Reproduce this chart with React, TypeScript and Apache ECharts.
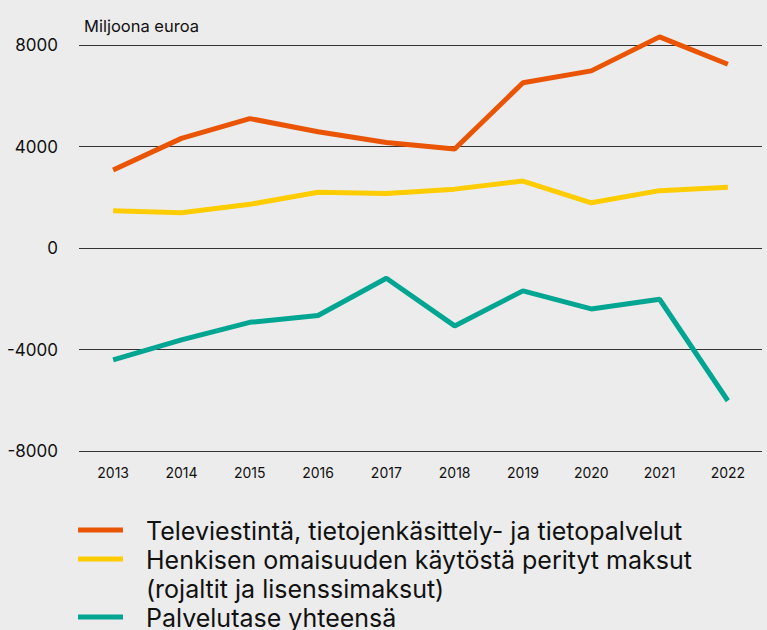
import React, { useEffect, useRef } from "react";
import * as echarts from "echarts";

const years = ["2013", "2014", "2015", "2016", "2017", "2018", "2019", "2020", "2021", "2022"];
const tele = [3070, 4320, 5100, 4580, 4160, 3900, 6510, 6980, 8320, 7240];
const ip = [1470, 1390, 1720, 2200, 2150, 2320, 2640, 1780, 2260, 2390];
const total = [-4410, -3620, -2930, -2660, -1190, -3070, -1690, -2400, -2020, -6020];
const seriesNames = [
  "Televiestintä, tietojenkäsittely- ja tietopalvelut",
  "Henkisen omaisuuden käytöstä perityt maksut\n(rojaltit ja lisenssimaksut)",
  "Palvelutase yhteensä",
];
const colors = ["#EA5505", "#FFCC00", "#00A692"];
const unitLabel = "Miljoona euroa";
const FONT = "Inter, 'Noto Sans', sans-serif";

export default function App() {
  const ref = useRef<HTMLDivElement>(null);
  useEffect(() => {
    document.body.style.margin = "0";
    const chart = echarts.init(ref.current!, null, { renderer: "svg" });
    const values = [tele, ip, total];
    const rowStart = 530;
    const rowH = 29;
    const legendGraphics: any[] = [];
    let row = 0;
    seriesNames.forEach((n, i) => {
      const cy = rowStart + row * rowH;
      legendGraphics.push({
        type: "rect",
        shape: { x: 78, y: cy - 2.5, width: 45, height: 5 },
        style: { fill: colors[i] },
      });
      n.split("\n").forEach((line) => {
        legendGraphics.push({
          type: "text",
          x: 146,
          y: rowStart + row * rowH + 1,
          style: {
            text: line,
            fill: "#111",
            font: `25px ${FONT}`,
            textVerticalAlign: "middle",
          },
        });
        row++;
      });
    });
    chart.setOption({
      animation: false,
      backgroundColor: "#ECECEC",
      textStyle: { fontFamily: FONT },
      title: {
        text: unitLabel,
        left: 79,
        top: 12,
        textStyle: { fontSize: 16.5, fontWeight: "normal", color: "#111", fontFamily: FONT },
      },
      grid: { left: 79, right: 5, top: 45, bottom: 179 },
      xAxis: {
        type: "category",
        data: years,
        boundaryGap: true,
        axisLine: { show: false },
        axisTick: { show: false },
        axisLabel: { color: "#111", fontSize: 14, margin: 14, fontFamily: FONT },
      },
      yAxis: {
        type: "value",
        min: -8000,
        max: 8000,
        interval: 4000,
        axisLine: { show: false },
        axisTick: { show: false },
        axisLabel: {
          color: "#111",
          fontSize: 17,
          margin: 21,
          fontFamily: FONT,
          formatter: (v: number) => String(v),
        },
        splitLine: { lineStyle: { color: "#333", width: 1 } },
      },
      series: values.map((v, i) => ({
        type: "line",
        name: seriesNames[i],
        data: v,
        symbol: "none",
        clip: false,
        lineStyle: { color: colors[i], width: 5 },
        itemStyle: { color: colors[i] },
      })),
      graphic: legendGraphics,
    });
    return () => chart.dispose();
  }, []);
  return <div ref={ref} style={{ width: 767, height: 630 }} />;
}
